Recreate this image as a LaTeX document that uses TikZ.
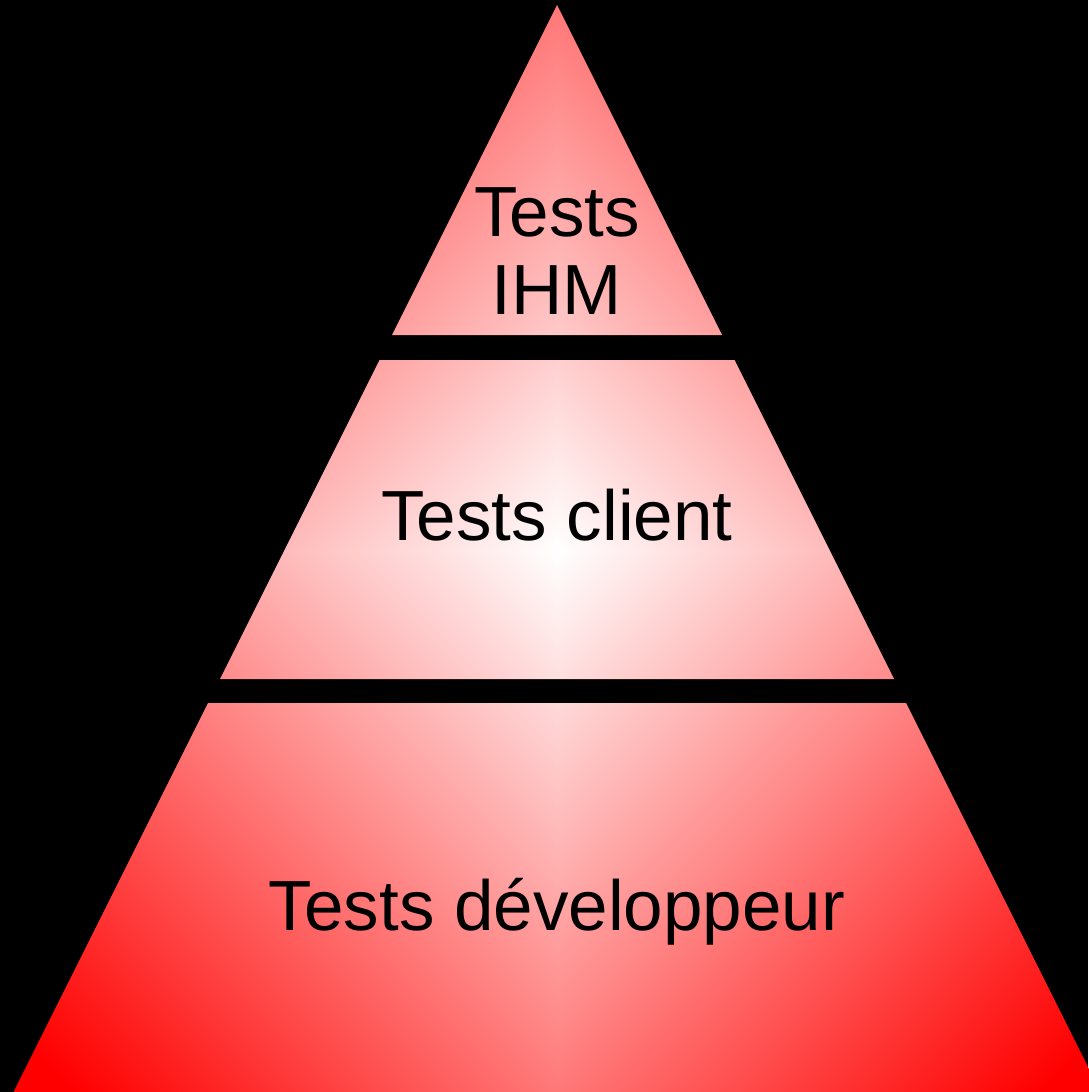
\documentclass[tikz,border=0pt]{standalone}
\usepackage{fontspec}
\setmainfont{Liberation Sans}
\pgfdeclarefunctionalshading{pyrdiamond}{\pgfpointorigin}{\pgfpoint{100bp}{100bp}}{}{
50 sub abs exch 50 sub abs add 42.7 div dup 1 gt {pop 1} if 1 exch sub dup 1 3 1 roll
}
\begin{document}
\begin{tikzpicture}[x=1pt,y=-1pt,
  lbl/.style={font=\fontsize{71}{78}\selectfont, text=black, inner sep=0pt, align=center}]
\useasboundingbox[fill=black] (0,0) rectangle (1088,1092);
\coordinate (apex) at (557,5);
\begin{scope}
\path[clip] (apex) -- (392,335) -- (722,335) -- cycle
  (379.5,360) -- (734.5,360) -- (894,679) -- (220,679) -- cycle
  (208,703) -- (906,703) -- (1100.5,1092) -- (13.5,1092) -- cycle;
\shade[shading=pyrdiamond] (-43,-50) rectangle (1157,1150);
\end{scope}
\node[lbl, anchor=base] (ihm) at (557,314) {Tests\\IHM};
\node[lbl, anchor=base] (client) at (557,540) {Tests client};
\node[lbl, anchor=base] (dev) at (557,930) {Tests développeur};
\end{tikzpicture}
\end{document}
